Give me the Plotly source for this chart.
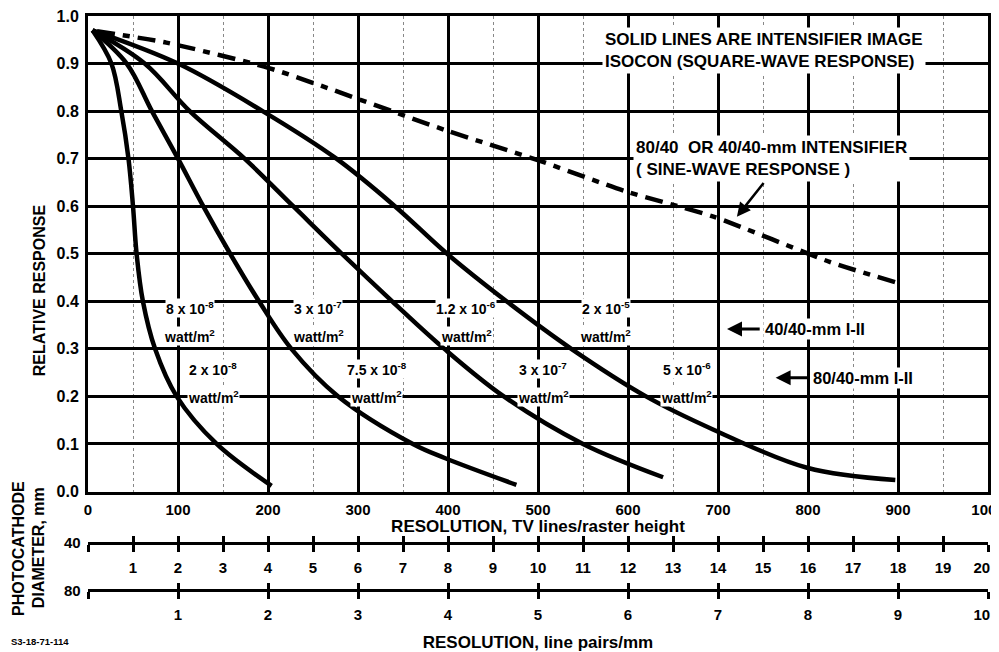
import plotly.graph_objects as go
import numpy as np

# ---- data ----
curve_a_x = [5, 26, 37, 45, 50, 54, 61, 74.5, 98.5, 143, 204]
curve_a_y = [0.97, 0.9, 0.8, 0.7, 0.6, 0.5, 0.4, 0.3, 0.2, 0.1, 0.012]

curve_b_x = [5, 43, 71, 100, 128, 158, 190, 226, 278, 361, 397, 476]
curve_b_y = [0.97, 0.9, 0.8, 0.7, 0.6, 0.5, 0.4, 0.3, 0.2, 0.1, 0.07, 0.014]

curve_c_x = [5, 63, 113, 174, 228, 282, 338, 396, 462, 550, 639]
curve_c_y = [0.97, 0.9, 0.8, 0.7, 0.6, 0.5, 0.4, 0.3, 0.2, 0.1, 0.03]

curve_d_x = [5, 100, 194, 276, 341, 399, 465, 537, 620, 695, 799, 897]
curve_d_y = [0.97, 0.9, 0.8, 0.7, 0.6, 0.5, 0.4, 0.3, 0.2, 0.13, 0.05, 0.024]

sine_x = [10, 87, 202, 397, 498, 598, 695, 824, 897]
sine_y = [0.968, 0.944, 0.89, 0.76, 0.698, 0.631, 0.578, 0.483, 0.44]

tv_ticks = list(range(0, 1001, 100))
resp_ticks = [round(0.1 * i, 1) for i in range(11)]
lp40_ticks = list(range(0, 21))
lp40_text = [""] + [str(i) for i in range(1, 20)] + ["20\u00a0\u00a0\u00a0"]
lp80_ticks = list(range(0, 11))
lp80_text = [""] + [str(i) for i in range(1, 10)] + ["10\u00a0\u00a0\u00a0"]

# irradiance labels: (x, y of first line, first line, y of second line)
labels = [
    (113, 0.386, "8 x 10<sup>-8</sup>", 0.326),
    (139, 0.257, "2 x 10<sup>-8</sup>", 0.198),
    (256, 0.386, "3 x 10<sup>-7</sup>", 0.326),
    (321, 0.257, "7.5 x 10<sup>-8</sup>", 0.198),
    (420, 0.386, "1.2 x 10<sup>-6</sup>", 0.326),
    (506, 0.257, "3 x 10<sup>-7</sup>", 0.198),
    (575, 0.386, "2 x 10<sup>-5</sup>", 0.326),
    (665, 0.257, "5 x 10<sup>-6</sup>", 0.198),
]
unit_text = "watt/m<sup>2</sup>"

FONT = "Liberation Sans"
bold = dict(family=FONT, color="black", weight="bold")

fig = go.Figure()

for xs, ys in [(curve_a_x, curve_a_y), (curve_b_x, curve_b_y),
               (curve_c_x, curve_c_y), (curve_d_x, curve_d_y)]:
    fig.add_trace(go.Scatter(x=xs, y=ys, mode="lines",
                             line=dict(color="black", width=4.5, shape="spline", smoothing=1.0),
                             showlegend=False, hoverinfo="skip"))

fig.add_trace(go.Scatter(x=sine_x, y=sine_y, mode="lines",
                         line=dict(color="black", width=4.5, dash="18px,8px,7px,8px",
                                   shape="spline", smoothing=0.6),
                         showlegend=False, hoverinfo="skip"))

# dummy traces so the secondary scales exist
for ax, vals in [("x2", lp40_ticks), ("x3", lp80_ticks), ("x4", lp40_ticks), ("x5", lp80_ticks)]:
    fig.add_trace(go.Scatter(x=vals, y=[np.nan] * len(vals), xaxis=ax, yaxis="y",
                             mode="markers", showlegend=False, hoverinfo="skip"))

Y0 = 0.1716      # bottom of main plot in paper coords
P40 = 0.0819     # position of the 40 mm scale

grid = dict(showgrid=True, gridcolor="black", gridwidth=2.5, zeroline=False,
            showline=True, linecolor="black", linewidth=3, mirror=True, automargin=False,
            ticklabeloverflow="allow")

scale_common = dict(overlaying="x", anchor="free", tickwidth=2.5, tickcolor="black",
                    ticklen=7, showgrid=False, zeroline=False, automargin=False,
                    ticklabeloverflow="allow")

# page body adds an 8 px offset, so the figure is sized 8 px smaller
fig.update_layout(
    width=991, height=644,
    margin=dict(l=80, r=11, t=8, b=62, autoexpand=False),
    paper_bgcolor="white", plot_bgcolor="white",
    xaxis=dict(range=[0, 1000], tickvals=tv_ticks, ticks="",
               tickfont=dict(size=15, **bold), ticklabelstandoff=2,
               title=dict(text="RESOLUTION, TV lines/raster height",
                          font=dict(size=17, **bold), standoff=0),
               minor=dict(dtick=50, showgrid=True, gridcolor="#888", gridwidth=1.2,
                          griddash="dot"),
               **grid),
    yaxis=dict(range=[0, 1], domain=[Y0, 1], tickvals=resp_ticks, tickformat=".1f",
               ticks="", tickfont=dict(size=16, **bold), ticklabelstandoff=3, **grid),
    xaxis2=dict(range=[0, 20], position=P40, tickvals=lp40_ticks, ticktext=lp40_text,
                ticks="outside", showline=True, linewidth=2.5, linecolor="black",
                tickfont=dict(size=15, **bold), ticklabelstandoff=3, **scale_common),
    xaxis4=dict(range=[0, 20], position=P40, tickvals=lp40_ticks, ticks="inside",
                showline=False, showticklabels=False, **scale_common),
    xaxis3=dict(range=[0, 10], position=0, tickvals=lp80_ticks, ticktext=lp80_text,
                ticks="outside", showline=True, linewidth=2.5, linecolor="black",
                tickfont=dict(size=15, **bold), ticklabelstandoff=3,
                title=dict(text="RESOLUTION, line pairs/mm",
                           font=dict(size=17, **bold), standoff=15),
                **scale_common),
    xaxis5=dict(range=[0, 10], position=0, tickvals=lp80_ticks, ticks="inside",
                showline=False, showticklabels=False, **scale_common),
)

for x, y1, t1, y2 in labels:
    fig.add_annotation(x=x, y=y1, text=t1, showarrow=False, xref="x", yref="y",
                       font=dict(size=14, **bold), bgcolor="white", borderpad=0)
    fig.add_annotation(x=x, y=y2, text=unit_text, showarrow=False, xref="x", yref="y",
                       font=dict(size=14, **bold), bgcolor="white", borderpad=0)

fig.add_annotation(x=751, y=0.927, xref="x", yref="y",
                   text="SOLID LINES ARE INTENSIFIER IMAGE<br>ISOCON (SQUARE-WAVE RESPONSE)",
                   showarrow=False, align="left", font=dict(size=17, **bold),
                   bgcolor="white", borderpad=2)
fig.add_annotation(x=606, y=0.70, xref="x", yref="y", xanchor="left",
                   text="80/40  OR 40/40-mm INTENSIFIER<br>( SINE-WAVE RESPONSE )",
                   showarrow=False, align="left", font=dict(size=17, **bold),
                   bgcolor="white", borderpad=2)
# arrow to the dashed curve
fig.add_annotation(x=721, y=0.578, xref="x", yref="y", ax=752, ay=0.652,
                   axref="x", ayref="y", text="", showarrow=True, arrowhead=2,
                   arrowsize=1.1, arrowwidth=2.5, arrowcolor="black")
# I-II markers
fig.add_annotation(x=710, y=0.342, xref="x", yref="y", ax=748, ay=0.342,
                   axref="x", ayref="y", text="", showarrow=True, arrowhead=2,
                   arrowsize=1, arrowwidth=3, arrowcolor="black")
fig.add_annotation(x=750, y=0.342, xref="x", yref="y", xanchor="left",
                   text="40/40-mm I-II", showarrow=False,
                   font=dict(size=16.5, **bold), bgcolor="white", borderpad=1)
fig.add_annotation(x=764, y=0.239, xref="x", yref="y", ax=801, ay=0.239,
                   axref="x", ayref="y", text="", showarrow=True, arrowhead=2,
                   arrowsize=1, arrowwidth=3, arrowcolor="black")
fig.add_annotation(x=803, y=0.239, xref="x", yref="y", xanchor="left",
                   text="80/40-mm I-II", showarrow=False,
                   font=dict(size=16.5, **bold), bgcolor="white", borderpad=1)

# axis-side texts
side = dict(showarrow=False, xanchor="center", yanchor="middle", textangle=-90,
            font=dict(size=16, **bold))
fig.add_annotation(x=-0.053, y=0.424, xref="paper", yref="y", text="RELATIVE RESPONSE", **side)
fig.add_annotation(x=-0.078, y=0.073, xref="paper", yref="paper", text="PHOTOCATHODE", **side)
fig.add_annotation(x=-0.0555, y=0.073, xref="paper", yref="paper", text="DIAMETER, mm", **side)
fig.add_annotation(x=-0.006, y=P40, xref="paper", yref="paper", text="40",
                   xanchor="right", yanchor="middle", showarrow=False,
                   font=dict(size=15, **bold))
fig.add_annotation(x=-0.006, y=0, xref="paper", yref="paper", text="80",
                   xanchor="right", yanchor="middle", showarrow=False,
                   font=dict(size=15, **bold))
fig.add_annotation(x=-0.088, y=-0.089, xref="paper", yref="paper", text="S3-18-71-114",
                   xanchor="left", yanchor="middle", showarrow=False,
                   font=dict(size=9.5, **bold))

fig.write_html("out.html")
